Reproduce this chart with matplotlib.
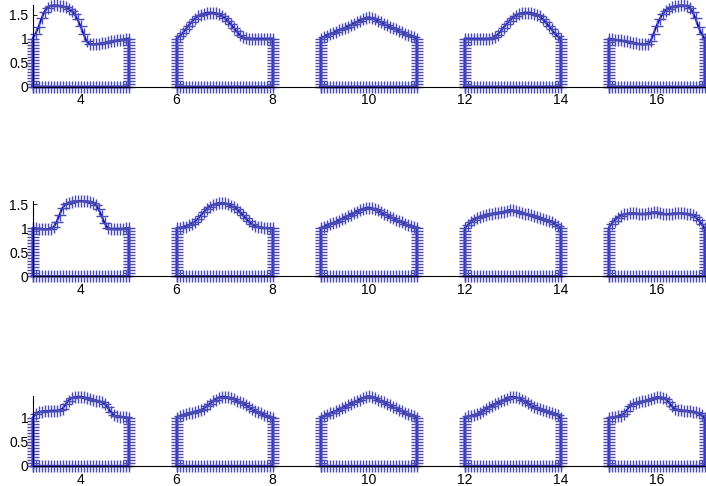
import numpy as np
import matplotlib
matplotlib.use("Agg")
from matplotlib import pyplot as plt

# left edge of each profile, all profiles are 2 wide and 1 high at the walls
x_left = [3, 6, 9, 12, 15]
width = 2.0

# top surface heights, 33 samples across each profile (step 1/16)
row1_tops = [
    [1.00, 1.10, 1.24, 1.42, 1.56, 1.64, 1.68, 1.69, 1.69, 1.68, 1.67, 1.65, 1.62, 1.58, 1.51, 1.40, 1.26,
     1.10, 0.94, 0.89, 0.88, 0.88, 0.89, 0.90, 0.91, 0.93, 0.94, 0.95, 0.96, 0.97, 0.98, 0.99, 1.00],
    [1.00, 1.05, 1.11, 1.19, 1.27, 1.34, 1.41, 1.46, 1.50, 1.52, 1.54, 1.54, 1.54, 1.53, 1.51, 1.47, 1.43,
     1.37, 1.30, 1.23, 1.15, 1.08, 1.03, 1.01, 1.00, 1.00, 1.00, 1.00, 1.00, 1.00, 1.00, 1.00, 1.00],
    [1.00, 1.03, 1.06, 1.09, 1.11, 1.14, 1.17, 1.20, 1.22, 1.25, 1.28, 1.31, 1.34, 1.37, 1.40, 1.43, 1.44,
     1.43, 1.40, 1.37, 1.34, 1.31, 1.28, 1.25, 1.22, 1.19, 1.16, 1.13, 1.10, 1.08, 1.05, 1.03, 1.00],
    [1.00, 1.00, 1.00, 1.00, 1.00, 1.00, 1.00, 1.00, 1.00, 1.01, 1.03, 1.08, 1.15, 1.23, 1.30, 1.37, 1.43,
     1.47, 1.51, 1.53, 1.54, 1.54, 1.54, 1.52, 1.50, 1.46, 1.41, 1.34, 1.27, 1.19, 1.11, 1.05, 1.00],
    [1.00, 0.99, 0.98, 0.97, 0.96, 0.95, 0.94, 0.93, 0.91, 0.90, 0.89, 0.88, 0.88, 0.89, 0.94, 1.10, 1.26,
     1.40, 1.51, 1.58, 1.62, 1.65, 1.67, 1.68, 1.69, 1.69, 1.68, 1.64, 1.56, 1.42, 1.24, 1.10, 1.00],
]

row2_tops = [
    [1.00, 1.00, 0.99, 0.99, 0.98, 0.98, 0.99, 1.02, 1.12, 1.28, 1.42, 1.50, 1.53, 1.55, 1.56, 1.56, 1.57,
     1.56, 1.56, 1.55, 1.53, 1.49, 1.40, 1.26, 1.11, 1.01, 0.99, 0.99, 0.99, 0.99, 0.99, 1.00, 1.00],
    [1.00, 1.01, 1.02, 1.03, 1.06, 1.09, 1.13, 1.19, 1.26, 1.33, 1.40, 1.45, 1.48, 1.50, 1.52, 1.52, 1.52,
     1.50, 1.47, 1.44, 1.40, 1.34, 1.28, 1.21, 1.14, 1.09, 1.05, 1.03, 1.02, 1.01, 1.00, 1.00, 1.00],
    [1.00, 1.03, 1.05, 1.08, 1.10, 1.13, 1.16, 1.19, 1.22, 1.25, 1.28, 1.31, 1.34, 1.37, 1.40, 1.42, 1.43,
     1.42, 1.40, 1.37, 1.33, 1.30, 1.27, 1.24, 1.21, 1.18, 1.15, 1.12, 1.09, 1.07, 1.05, 1.03, 1.00],
    [1.00, 1.06, 1.12, 1.17, 1.21, 1.24, 1.26, 1.28, 1.29, 1.30, 1.31, 1.32, 1.33, 1.34, 1.36, 1.38, 1.37,
     1.35, 1.33, 1.32, 1.30, 1.29, 1.27, 1.26, 1.24, 1.22, 1.20, 1.18, 1.16, 1.13, 1.09, 1.04, 1.00],
    [1.00, 1.09, 1.16, 1.22, 1.26, 1.29, 1.30, 1.31, 1.31, 1.31, 1.30, 1.30, 1.30, 1.31, 1.32, 1.33, 1.33,
     1.32, 1.30, 1.29, 1.30, 1.30, 1.31, 1.31, 1.31, 1.31, 1.30, 1.29, 1.27, 1.23, 1.17, 1.09, 1.00],
]

row3_tops = [
    [1.00, 1.07, 1.12, 1.13, 1.14, 1.14, 1.15, 1.15, 1.15, 1.16, 1.19, 1.28, 1.36, 1.41, 1.43, 1.44, 1.44,
     1.43, 1.41, 1.39, 1.38, 1.36, 1.35, 1.33, 1.29, 1.22, 1.13, 1.06, 1.03, 1.02, 1.02, 1.01, 1.00],
    [1.00, 1.04, 1.06, 1.08, 1.10, 1.11, 1.13, 1.14, 1.16, 1.19, 1.24, 1.29, 1.34, 1.38, 1.42, 1.44, 1.44,
     1.43, 1.41, 1.39, 1.36, 1.33, 1.30, 1.27, 1.23, 1.19, 1.15, 1.12, 1.09, 1.06, 1.04, 1.02, 1.00],
    [1.00, 1.03, 1.06, 1.09, 1.11, 1.14, 1.17, 1.20, 1.23, 1.26, 1.29, 1.32, 1.35, 1.38, 1.41, 1.44, 1.45,
     1.44, 1.41, 1.38, 1.35, 1.32, 1.29, 1.26, 1.23, 1.20, 1.17, 1.14, 1.11, 1.08, 1.05, 1.03, 1.00],
    [1.00, 1.03, 1.04, 1.05, 1.07, 1.10, 1.14, 1.18, 1.22, 1.25, 1.28, 1.31, 1.34, 1.37, 1.40, 1.43, 1.44,
     1.43, 1.41, 1.38, 1.34, 1.30, 1.26, 1.23, 1.20, 1.18, 1.16, 1.14, 1.12, 1.10, 1.08, 1.05, 1.00],
    [1.00, 1.01, 1.02, 1.03, 1.04, 1.08, 1.15, 1.24, 1.29, 1.31, 1.33, 1.34, 1.35, 1.37, 1.39, 1.41, 1.43,
     1.43, 1.42, 1.39, 1.33, 1.25, 1.19, 1.17, 1.16, 1.15, 1.15, 1.14, 1.13, 1.12, 1.09, 1.05, 1.00],
]

rows = [row1_tops, row2_tops, row3_tops]
xticks = [4, 6, 8, 10, 12, 14, 16]
yticks = [[0, 0.5, 1, 1.5], [0, 0.5, 1, 1.5], [0, 0.5, 1]]

plt.rcParams["font.family"] = ["Liberation Sans", "DejaVu Sans"]
plt.rcParams["font.size"] = 10

fig, axes = plt.subplots(3, 1, figsize=(7.06, 4.86), dpi=100)
fig.subplots_adjust(left=32.5 / 706, right=704.5 / 706, top=1 - 1 / 486, bottom=1 - 476 / 486, hspace=1.14)


def outline(x0, top):
    # closed contour: left wall up, top surface, right wall down, floor back
    top = np.asarray(top)
    xt = x0 + np.linspace(0, width, len(top))
    wall = np.linspace(0, 1, 17)
    floor = np.linspace(x0 + width, x0, 33)
    xs = np.concatenate([np.full(16, x0), xt, np.full(16, x0 + width), floor[1:]])
    ys = np.concatenate([wall[:-1], top, wall[::-1][1:], np.zeros(32)])
    return xs, ys


for ax, tops, yt in zip(axes, rows, yticks):
    ymax = 0
    for x0, top in zip(x_left, tops):
        xs, ys = outline(x0, top)
        ax.plot(xs, ys, color="#0000c8", linewidth=1.4, marker="+", markersize=8,
                markeredgewidth=1.0, markeredgecolor="#4a4ab4", clip_on=False)
        ymax = max(ymax, max(top))
    ax.set_xlim(3, 17)
    ax.set_ylim(0, ymax)
    ax.set_aspect("equal")
    ax.spines["top"].set_visible(False)
    ax.spines["right"].set_visible(False)
    ax.spines["left"].set_linewidth(0.8)
    ax.spines["bottom"].set_linewidth(0.8)
    ax.set_xticks(xticks)
    ax.set_xticklabels([str(t) for t in xticks])
    ax.set_yticks(yt)
    ax.set_yticklabels(["0" if t == 0 else ("1" if t == 1 else str(t)) for t in yt])
    ax.tick_params(direction="in", length=3, width=0.6, pad=3, labelsize=10)
    ax.tick_params(axis="x", pad=5)

fig.savefig("out.png", dpi=100)
